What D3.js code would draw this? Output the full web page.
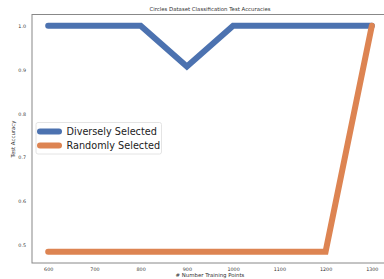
<html>
<head>
<script src="https://d3js.org/d3.v7.min.js"></script>
<style>
  body { margin: 0; background: white; font-family: "DejaVu Sans", sans-serif; }
</style>
</head>
<body>
<script>
var width = 384, height = 279;

var trainPoints = [600, 700, 800, 900, 1000, 1100, 1200, 1300];
var diverseAcc = [1.0, 1.0, 1.0, 0.907, 1.0, 1.0, 1.0, 1.0];
var randomAcc = [0.485, 0.485, 0.485, 0.485, 0.485, 0.485, 0.485, 1.0];
var seriesNames = ["Diversely Selected", "Randomly Selected"];
var seriesColors = ["#4c72b0", "#dd8452"];
var xTicks = [600, 700, 800, 900, 1000, 1100, 1200, 1300];
var yTicks = [0.5, 0.6, 0.7, 0.8, 0.9, 1.0];

var margin = {left: 32, right: -4, top: 14.5, bottom: 16};

var svg = d3.select("body").append("svg")
  .attr("width", width).attr("height", height);

var x = d3.scaleLinear().domain([565, 1335])
  .range([margin.left, width - margin.right]);
var y = d3.scaleLinear().domain([0.45925, 1.02575])
  .range([height - margin.bottom, margin.top]);

// frame
svg.append("rect")
  .attr("x", x(565)).attr("y", y(1.02575))
  .attr("width", x(1335) - x(565)).attr("height", y(0.45925) - y(1.02575))
  .attr("fill", "none").attr("stroke", "#888").attr("stroke-width", 1);

var xAxis = svg.append("g")
  .attr("transform", "translate(0," + (height - margin.bottom) + ")")
  .call(d3.axisBottom(x).tickValues(xTicks).tickSize(0).tickPadding(5).tickFormat(d3.format("d")));
var yAxis = svg.append("g")
  .attr("transform", "translate(" + margin.left + ",0)")
  .call(d3.axisLeft(y).tickValues(yTicks).tickSize(0).tickPadding(6).tickFormat(d3.format(".1f")));
[xAxis, yAxis].forEach(function(a) {
  a.select(".domain").remove();
  a.selectAll("text").attr("font-family", "DejaVu Sans").attr("font-size", 4.8).attr("fill", "#333");
});

var line = d3.line()
  .x(function(d) { return x(d[0]); })
  .y(function(d) { return y(d[1]); });

[diverseAcc, randomAcc].forEach(function(vals, i) {
  svg.append("path")
    .datum(trainPoints.map(function(p, j) { return [p, vals[j]]; }))
    .attr("d", line)
    .attr("fill", "none")
    .attr("stroke", seriesColors[i])
    .attr("stroke-width", 6)
    .attr("stroke-linecap", "round")
    .attr("stroke-linejoin", "miter");
});

svg.append("text")
  .attr("x", 210).attr("y", 10.5)
  .attr("text-anchor", "middle")
  .attr("font-size", 5.4).attr("fill", "#333")
  .text("Circles Dataset Classification Test Accuracies");

svg.append("text")
  .attr("x", 210).attr("y", 277)
  .attr("text-anchor", "middle")
  .attr("font-size", 5.4).attr("fill", "#333")
  .text("# Number Training Points");

svg.append("text")
  .attr("transform", "translate(15,139) rotate(-90)")
  .attr("text-anchor", "middle")
  .attr("font-size", 5.4).attr("fill", "#333")
  .text("Test Accuracy");

// legend
var lg = svg.append("g");
lg.append("rect")
  .attr("x", 36).attr("y", 122.5).attr("width", 125.5).attr("height", 31.5)
  .attr("rx", 2).attr("fill", "white").attr("fill-opacity", 0.8)
  .attr("stroke", "#ddd").attr("stroke-width", 0.8);
seriesNames.forEach(function(name, i) {
  var yy = 131.5 + i * 14;
  lg.append("line")
    .attr("x1", 40).attr("x2", 59).attr("y1", yy).attr("y2", yy)
    .attr("stroke", seriesColors[i]).attr("stroke-width", 6)
    .attr("stroke-linecap", "round");
  lg.append("text")
    .attr("x", 66.5).attr("y", yy + 3.6)
    .attr("font-size", 9.7).attr("fill", "#222")
    .text(name);
});
</script>
</body>
</html>
